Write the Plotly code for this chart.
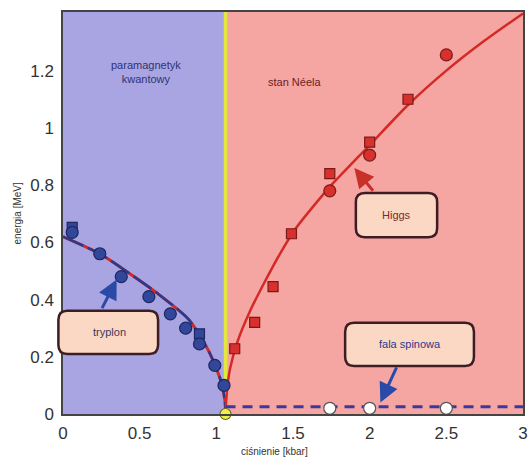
import plotly.graph_objects as go

# ---------------- data ----------------
qcp_x = 1.06  # critical pressure [kbar]

tryplon_circle_x = [0.06, 0.24, 0.38, 0.56, 0.70, 0.80, 0.89, 0.99, 1.05]
tryplon_circle_y = [0.635, 0.56, 0.48, 0.41, 0.35, 0.30, 0.245, 0.17, 0.10]
tryplon_square_x = [0.06, 0.89]
tryplon_square_y = [0.652, 0.28]
tryplon_fit_x = [0.0, 0.24, 0.41, 0.62, 0.82, 0.95, 1.03, 1.055, 1.06]
tryplon_fit_y = [0.62, 0.56, 0.50, 0.42, 0.33, 0.22, 0.115, 0.05, 0.0]

higgs_square_x = [1.12, 1.25, 1.37, 1.49, 1.74, 2.00, 2.25]
higgs_square_y = [0.228, 0.32, 0.445, 0.63, 0.84, 0.95, 1.10]
higgs_circle_x = [1.74, 2.00, 2.50]
higgs_circle_y = [0.78, 0.905, 1.255]
higgs_fit_x = [1.06, 1.07, 1.09, 1.14, 1.22, 1.31, 1.415, 1.52, 1.67, 1.75, 2.0, 2.25, 2.5, 2.75, 3.0]
higgs_fit_y = [0.0, 0.085, 0.16, 0.256, 0.36, 0.456, 0.56, 0.65, 0.75, 0.80, 0.94, 1.08, 1.20, 1.305, 1.40]

spin_x = [1.74, 2.00, 2.50]
spin_y = [0.02, 0.02, 0.02]
spin_line_x = [1.06, 3.0]
spin_line_y = [0.025, 0.025]

x_ticks = [0, 0.5, 1, 1.5, 2, 2.5, 3]
y_ticks = [0, 0.2, 0.4, 0.6, 0.8, 1, 1.2]

X_RANGE = [0, 3]
Y_RANGE = [0, 1.405]

# ---------------- styles ----------------
BLUE_BG = "#a9a5e3"
RED_BG = "#f5a6a2"
NAVY = "#2c3a8c"
RED = "#d42a26"
BOX_FILL = "#fbd8c3"
BOX_LINE = "#3e1c24"
FONT = "Liberation Sans"

fig = go.Figure()

# tryplon fit (red under blue)
fig.add_trace(go.Scatter(x=tryplon_fit_x, y=tryplon_fit_y, mode="lines",
                         line=dict(color=RED, width=3, shape="spline", smoothing=0.7),
                         hoverinfo="skip", cliponaxis=False))
fig.add_trace(go.Scatter(x=tryplon_fit_x, y=tryplon_fit_y, mode="lines",
                         line=dict(color=NAVY, width=2.5, shape="spline", smoothing=0.7,
                                   dash="22px,5px"),
                         hoverinfo="skip", cliponaxis=False))
# higgs fit
fig.add_trace(go.Scatter(x=higgs_fit_x, y=higgs_fit_y, mode="lines",
                         line=dict(color=RED, width=2.5, shape="spline", smoothing=0.7),
                         hoverinfo="skip"))
# spin wave line
fig.add_trace(go.Scatter(x=spin_line_x, y=spin_line_y, mode="lines",
                         line=dict(color="#3a3a9e", width=3, dash="10px,7px"),
                         hoverinfo="skip"))

# markers
fig.add_trace(go.Scatter(x=tryplon_square_x, y=tryplon_square_y, mode="markers",
                         marker=dict(symbol="square", size=10, color="#33479a",
                                     line=dict(color="#1d2660", width=1.2))))
fig.add_trace(go.Scatter(x=tryplon_circle_x, y=tryplon_circle_y, mode="markers",
                         marker=dict(symbol="circle", size=12, color="#33479a",
                                     line=dict(color="#1d2660", width=1.2))))
fig.add_trace(go.Scatter(x=higgs_square_x, y=higgs_square_y, mode="markers",
                         marker=dict(symbol="square", size=10, color="#d8302c",
                                     line=dict(color="#7a1a18", width=1.2))))
fig.add_trace(go.Scatter(x=higgs_circle_x, y=higgs_circle_y, mode="markers",
                         marker=dict(symbol="circle", size=12, color="#d8302c",
                                     line=dict(color="#7a1a18", width=1.2))))
fig.add_trace(go.Scatter(x=spin_x, y=spin_y, mode="markers", cliponaxis=False,
                         marker=dict(symbol="circle", size=12, color="white",
                                     line=dict(color="#555555", width=1.2))))
fig.add_trace(go.Scatter(x=[qcp_x], y=[0], mode="markers", cliponaxis=False,
                         marker=dict(symbol="circle", size=11, color="#eef04a",
                                     line=dict(color="#6a6a20", width=1.2))))

# background regions and boundary
shapes = [
    dict(type="rect", xref="x", yref="y", x0=X_RANGE[0], x1=qcp_x, y0=Y_RANGE[0], y1=Y_RANGE[1],
         fillcolor=BLUE_BG, line=dict(width=0), layer="below"),
    dict(type="rect", xref="x", yref="y", x0=qcp_x, x1=X_RANGE[1], y0=Y_RANGE[0], y1=Y_RANGE[1],
         fillcolor=RED_BG, line=dict(width=0), layer="below"),
    dict(type="line", xref="x", yref="y", x0=qcp_x, x1=qcp_x, y0=Y_RANGE[0], y1=Y_RANGE[1],
         line=dict(color="#e4e83c", width=3.5), layer="below"),
]

# rounded label boxes (paper coords so they may extend past the axes)
PLOT_W, PLOT_H = 465.0, 402.0


def rounded_box(x0, x1, y0, y1, r_px=9):
    px0, px1 = x0 / X_RANGE[1], x1 / X_RANGE[1]
    py0, py1 = y0 / Y_RANGE[1], y1 / Y_RANGE[1]
    rx, ry = r_px / PLOT_W, r_px / PLOT_H
    path = (f"M {px0 + rx},{py0} L {px1 - rx},{py0} Q {px1},{py0} {px1},{py0 + ry} "
            f"L {px1},{py1 - ry} Q {px1},{py1} {px1 - rx},{py1} "
            f"L {px0 + rx},{py1} Q {px0},{py1} {px0},{py1 - ry} "
            f"L {px0},{py0 + ry} Q {px0},{py0} {px0 + rx},{py0} Z")
    return dict(type="path", xref="paper", yref="paper", path=path,
                fillcolor=BOX_FILL, line=dict(color=BOX_LINE, width=2.5), layer="above")


shapes.append(rounded_box(-0.03, 0.62, 0.21, 0.361))
shapes.append(rounded_box(1.91, 2.44, 0.618, 0.772))
shapes.append(rounded_box(1.84, 2.68, 0.168, 0.319))

annotations = [
    dict(x=0.54, y=1.196, xref="x", yref="y", text="paramagnetyk<br>kwantowy", showarrow=False,
         font=dict(family=FONT, size=11, color="#2e3472")),
    dict(x=1.51, y=1.16, xref="x", yref="y", text="stan Néela", showarrow=False,
         font=dict(family=FONT, size=11, color="#6a2222")),
    dict(x=0.30, y=0.285, xref="x", yref="y", text="tryplon", showarrow=False,
         font=dict(family=FONT, size=11, color="#3a3a5a")),
    dict(x=2.175, y=0.695, xref="x", yref="y", text="Higgs", showarrow=False,
         font=dict(family=FONT, size=11, color="#7a2a2a")),
    dict(x=2.26, y=0.243, xref="x", yref="y", text="fala spinowa", showarrow=False,
         font=dict(family=FONT, size=11, color="#2a3a8a")),
    # arrows
    dict(x=0.35, y=0.47, ax=0.25, ay=0.365, xref="x", yref="y", axref="x", ayref="y", text="",
         showarrow=True, arrowhead=2, arrowsize=1.3, arrowwidth=3, arrowcolor="#2a4aa8"),
    dict(x=1.90, y=0.86, ax=2.03, ay=0.775, xref="x", yref="y", axref="x", ayref="y", text="",
         showarrow=True, arrowhead=2, arrowsize=1.3, arrowwidth=3, arrowcolor="#c8302a"),
    dict(x=2.07, y=0.04, ax=2.18, ay=0.168, xref="x", yref="y", axref="x", ayref="y", text="",
         showarrow=True, arrowhead=2, arrowsize=1.3, arrowwidth=3, arrowcolor="#2a4aa8"),
    # axis titles
    dict(x=-0.099, y=0.5, xref="paper", yref="paper", text="energia [MeV]", textangle=-90,
         xanchor="center", yanchor="middle",
         showarrow=False, font=dict(family=FONT, size=10, color="#333333")),
    dict(x=0.46, y=-0.0945, xref="paper", yref="paper", text="ciśnienie [kbar]",
         xanchor="center", yanchor="middle",
         showarrow=False, font=dict(family=FONT, size=10, color="#333333")),
]

fig.update_layout(
    width=532, height=461,
    margin=dict(l=63, r=4, t=12, b=47),
    paper_bgcolor="white", plot_bgcolor="white",
    showlegend=False,
    shapes=shapes, annotations=annotations,
    xaxis=dict(range=X_RANGE, tickvals=x_ticks, showgrid=False, zeroline=False,
               showline=True, linecolor="#444444", linewidth=1.5, mirror=True,
               ticks="", ticklabelstandoff=3,
               tickfont=dict(family=FONT, size=17, color="#333333")),
    yaxis=dict(range=Y_RANGE, tickvals=y_ticks, showgrid=False, zeroline=False,
               showline=True, linecolor="#444444", linewidth=1.5, mirror=True,
               ticks="", ticklabelstandoff=4,
               tickfont=dict(family=FONT, size=17, color="#333333")),
)

fig.write_html("out.html")
